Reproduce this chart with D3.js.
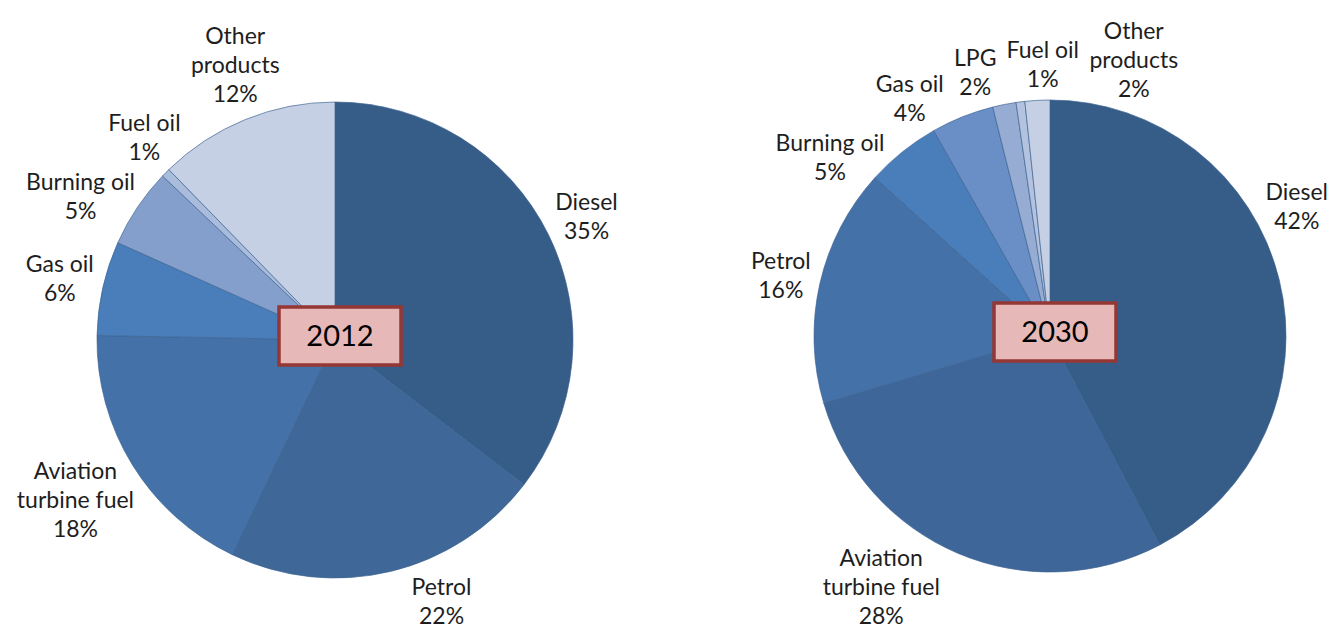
<!DOCTYPE html>
<html>
<head>
<meta charset="utf-8">
<script src="https://cdn.jsdelivr.net/npm/d3@7"></script>
<style>
  body { margin: 0; background: #fff; }
  text { font-family: Lato, "Open Sans", sans-serif; fill: #1e1e1e; }
</style>
</head>
<body>
<div id="chart"></div>
<script>
// product shares (%), clockwise from 12 o'clock
const products2012 = ["Diesel", "Petrol", "Aviation turbine fuel", "Gas oil", "Burning oil", "Fuel oil", "Other products"];
const shares2012 = [35.4, 21.7, 18.2, 6.4, 5.4, 0.6, 12.3];

const products2030 = ["Diesel", "Aviation turbine fuel", "Petrol", "Burning oil", "Gas oil", "LPG", "Fuel oil", "Other products"];
const shares2030 = [42.3, 28.1, 16.3, 5.1, 4.3, 1.6, 0.6, 1.7];

const years = ["2012", "2030"];

const width = 1331, height = 632;

const svg = d3.select("#chart")
  .append("svg")
  .attr("width", width)
  .attr("height", height);

// slice colours per product
const color2012 = d3.scaleOrdinal()
  .domain(products2012)
  .range(["#365c88", "#3f6899", "#4471a8", "#4a7ebb", "#849fcb", "#aabcdb", "#c6d0e4"]);
const color2030 = d3.scaleOrdinal()
  .domain(products2030)
  .range(["#365c88", "#3e6699", "#4471a8", "#4a7ebb", "#6a8ec6", "#97acd3", "#b3c3df", "#c6d0e4"]);

const charts = [
  {year: years[0], names: products2012, values: shares2012, color: color2012, cx: 335, cy: 340, r: 238},
  {year: years[1], names: products2030, values: shares2030, color: color2030, cx: 1050, cy: 336, r: 236}
];

const fontSize = 23, lineH = 29, gap = 12, ink = 8.5;

function labelLines(name, v) {
  let lines = [name];
  if (name.length > 12) {
    const i = name.indexOf(" ");
    lines = [name.slice(0, i), name.slice(i + 1)];
  }
  return lines.concat([Math.round(v) + "%"]);
}

// measure text width with a throwaway node
const measurer = svg.append("text").style("font-size", fontSize + "px");
function textWidth(s) {
  measurer.text(s);
  return measurer.node().getComputedTextLength();
}

// ink box of every line of a label centred at (x, y)
function boxes(l, x, y) {
  const n = l.lines.length;
  return l.widths.map(function(w, i) {
    const yc = y + (i - (n - 1) / 2) * lineH;
    return {x0: x - w / 2, x1: x + w / 2, y0: yc - ink, y1: yc + ink};
  });
}
function clearance(l, x, y) {
  return d3.min(boxes(l, x, y), function(b) {
    const nx = Math.max(b.x0, Math.min(0, b.x1));
    const ny = Math.max(b.y0, Math.min(0, b.y1));
    return Math.hypot(nx, ny);
  });
}

charts.forEach(function(c) {
  const data = c.names.map(function(n, i) { return {name: n, v: c.values[i]}; });
  const pie = d3.pie().sort(null).value(function(d) { return d.v; });
  const arcs = pie(data);
  const arc = d3.arc().innerRadius(0).outerRadius(c.r);

  const g = svg.append("g")
    .attr("transform", "translate(" + c.cx + "," + c.cy + ")");

  g.selectAll("path")
    .data(arcs)
    .join("path")
    .attr("d", arc)
    .attr("fill", function(d) { return c.color(d.data.name); })
    .attr("stroke", "#3b6290")
    .attr("stroke-opacity", 0.75)
    .attr("stroke-width", 0.9);

  const need = c.r + gap;

  // labels just outside the rim at the slice's mid angle
  const labels = arcs.map(function(d) {
    const lines = labelLines(d.data.name, d.data.v);
    const widths = lines.map(textWidth);
    return {
      lines: lines,
      widths: widths,
      w: d3.max(widths),
      h: (lines.length - 1) * lineH + 2 * ink,
      a: (d.startAngle + d.endAngle) / 2
    };
  });

  function place(l) {
    const ux = Math.sin(l.a), uy = -Math.cos(l.a);
    let t = c.r;
    while (clearance(l, ux * t, uy * t) < need) t += 0.5;
    l.x = ux * t;
    l.y = uy * t;
  }
  labels.forEach(place);

  function overlap(p, q) {
    return Math.abs(p.x - q.x) < (p.w + q.w) / 2 + 10 &&
           Math.abs(p.y - q.y) < (p.h + q.h) / 2 + 12;
  }

  // spread colliding labels around the circle
  for (let it = 0; it < 800; it++) {
    let moved = false;
    for (let i = 0; i < labels.length; i++) {
      for (let j = i + 1; j < labels.length; j++) {
        if (overlap(labels[i], labels[j])) {
          labels[i].a -= 0.003;
          labels[j].a += 0.003;
          place(labels[i]);
          place(labels[j]);
          moved = true;
        }
      }
    }
    if (!moved) break;
  }

  // keep labels inside the picture, sliding them clear of the rim
  const xMin = 3 - c.cx, xMax = width - 3 - c.cx;
  const yMin = 10 - c.cy, yMax = height - 8 - c.cy;
  labels.forEach(function(l) {
    if (l.x + l.w / 2 > xMax || l.x - l.w / 2 < xMin) {
      l.x = Math.max(xMin + l.w / 2, Math.min(xMax - l.w / 2, l.x));
      const s = l.y < 0 ? -1 : 1;
      while (clearance(l, l.x, l.y) < need) l.y += 0.5 * s;
    }
    if (l.y + l.h / 2 > yMax || l.y - l.h / 2 < yMin) {
      l.y = Math.max(yMin + l.h / 2, Math.min(yMax - l.h / 2, l.y));
      const s = l.x < 0 ? -1 : 1;
      while (clearance(l, l.x, l.y) < need) l.x += 0.5 * s;
    }
  });

  const lab = g.selectAll("g.label")
    .data(labels)
    .join("g")
    .attr("class", "label")
    .attr("transform", function(d) { return "translate(" + d.x + "," + d.y + ")"; });

  lab.selectAll("text")
    .data(function(d) {
      return d.lines.map(function(s, i) { return {s: s, y: (i - (d.lines.length - 1) / 2) * lineH}; });
    })
    .join("text")
    .attr("text-anchor", "middle")
    .attr("y", function(d) { return d.y; })
    .attr("dy", "0.36em")
    .style("font-size", fontSize + "px")
    .text(function(d) { return d.s; });

  // year tag in the middle
  const tag = g.append("g").attr("transform", "translate(5,-4)");
  tag.append("rect")
    .attr("x", -61).attr("y", -29)
    .attr("width", 122).attr("height", 58)
    .attr("fill", "#e6b9b8")
    .attr("stroke", "#953735")
    .attr("stroke-width", 3.5);
  tag.append("text")
    .attr("text-anchor", "middle")
    .attr("dy", "0.36em")
    .style("font-size", "29px")
    .style("fill", "#000")
    .text(c.year);
});

measurer.remove();
</script>
</body>
</html>
